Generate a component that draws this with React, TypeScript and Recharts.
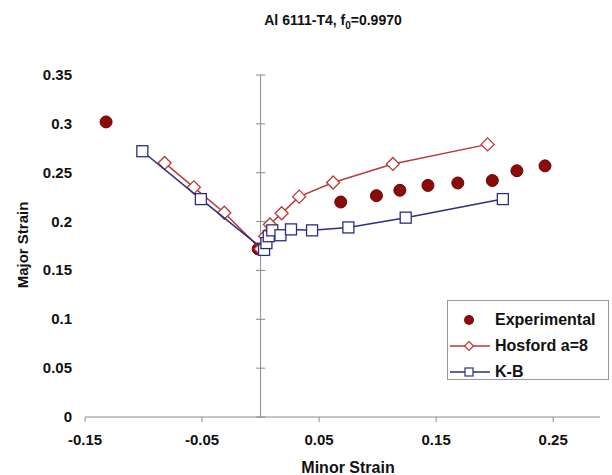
import React from 'react';
import { ScatterChart, Scatter, XAxis, YAxis, ReferenceLine } from 'recharts';

// Experimental forming limit points
const expMinor = [-0.132, -0.002, 0.0685, 0.099, 0.119, 0.143, 0.1685, 0.198, 0.219, 0.243];
const expMajor = [0.302, 0.172, 0.22, 0.2265, 0.232, 0.237, 0.2395, 0.242, 0.252, 0.257];

// Hosford yield criterion, a = 8
const hosMinor = [-0.082, -0.057, -0.031, 0, 0.004, 0.008, 0.018, 0.033, 0.062, 0.113, 0.194];
const hosMajor = [0.26, 0.235, 0.209, 0.172, 0.185, 0.197, 0.2085, 0.2255, 0.24, 0.259, 0.279];

// K-B model
const kbMinor = [-0.101, -0.051, 0.003, 0.005, 0.007, 0.01, 0.017, 0.026, 0.044, 0.075, 0.124, 0.207];
const kbMajor = [0.272, 0.223, 0.171, 0.178, 0.185, 0.191, 0.186, 0.192, 0.191, 0.194, 0.204, 0.223];

const xTicks = [-0.15, -0.05, 0.05, 0.15, 0.25];
const yTicks = [0, 0.05, 0.1, 0.15, 0.2, 0.25, 0.3, 0.35];
const yTickLabels = ['0', '0.05', '0.1', '0.15', '0.2', '0.25', '0.3', '0.35'];

const toPoints = (xs: number[], ys: number[]) => xs.map((x, i) => ({ x, y: ys[i] }));

const expData = toPoints(expMinor, expMajor);
const hosData = toPoints(hosMinor, hosMajor);
const kbData = toPoints(kbMinor, kbMajor);

const FONT = "Arial, 'Liberation Sans', sans-serif";
const AXIS = '#8c8c8c';
const EXP_COLOR = '#8b0a0a';
const HOS_COLOR = '#b83a36';
const KB_COLOR = '#2b2f80';

const Dot = ({ cx, cy }: any) => (
  <circle cx={cx} cy={cy} r={6} fill={EXP_COLOR} stroke="#6a0505" strokeWidth={1} />
);

const Diamond = ({ cx, cy }: any) => (
  <path
    d={`M${cx},${cy - 6.5} L${cx + 6.5},${cy} L${cx},${cy + 6.5} L${cx - 6.5},${cy} Z`}
    fill="#fff"
    stroke={HOS_COLOR}
    strokeWidth={1.3}
  />
);

const Square = ({ cx, cy }: any) => (
  <rect x={cx - 5.5} y={cy - 5.5} width={11} height={11} fill="#fff" stroke={KB_COLOR} strokeWidth={1.3} />
);

const XTick = ({ x, y, payload }: any) => (
  <text x={x} y={y + 21} textAnchor="middle" fontSize={15} fontWeight="bold" fill="#111" fontFamily={FONT}>
    {payload.value}
  </text>
);

const YTick = ({ x, y, payload }: any) => (
  <text x={x} y={y + 5} textAnchor="end" fontSize={15} fontWeight="bold" fill="#111" fontFamily={FONT}>
    {yTickLabels[yTicks.indexOf(payload.value)] ?? payload.value}
  </text>
);

const legendItems = [
  { name: 'Experimental', kind: 'dot' },
  { name: 'Hosford a=8', kind: 'diamond' },
  { name: 'K-B', kind: 'square' },
];

const LegendSymbol = ({ kind }: { kind: string }) => (
  <svg width={42} height={14} style={{ display: 'block' }}>
    {kind === 'dot' && <circle cx={20} cy={7} r={5} fill={EXP_COLOR} />}
    {kind === 'diamond' && (
      <>
        <line x1={1} y1={7} x2={41} y2={7} stroke={HOS_COLOR} strokeWidth={1.3} />
        <path d="M20,2.5 L24.5,7 L20,11.5 L15.5,7 Z" fill="#fff" stroke={HOS_COLOR} strokeWidth={1.2} />
      </>
    )}
    {kind === 'square' && (
      <>
        <line x1={1} y1={7} x2={41} y2={7} stroke={KB_COLOR} strokeWidth={1.3} />
        <rect x={16} y={3} width={8} height={8} fill="#fff" stroke={KB_COLOR} strokeWidth={1.2} />
      </>
    )}
  </svg>
);

export default function App() {
  return (
    <div style={{ position: 'absolute', left: 0, top: 0, width: 612, height: 475, background: '#fff', fontFamily: FONT }}>
      <div
        style={{
          position: 'absolute',
          left: 0,
          width: 666,
          top: 12,
          textAlign: 'center',
          fontSize: 14,
          fontWeight: 'bold',
          color: '#111',
        }}
      >
        Al 6111-T4, f<sub style={{ fontSize: 10 }}>0</sub>=0.9970
      </div>

      <ScatterChart width={612} height={475} margin={{ top: 75, right: 12, bottom: 0, left: 0 }}>
        <XAxis
          type="number"
          dataKey="x"
          domain={[-0.15, 0.29]}
          ticks={xTicks}
          allowDataOverflow
          axisLine={{ stroke: AXIS }}
          tickLine={{ stroke: AXIS }}
          tickSize={5}
          height={58}
          tick={<XTick />}
        />
        <YAxis
          type="number"
          dataKey="y"
          domain={[0, 0.35]}
          ticks={yTicks}
          width={85}
          axisLine={false}
          tickLine={false}
          tickSize={0}
          tickMargin={13}
          tick={<YTick />}
        />
        <ReferenceLine x={0} stroke={AXIS} strokeWidth={1} />
        {yTicks.map((t) => (
          <ReferenceLine
            key={t}
            segment={[
              { x: -0.004, y: t },
              { x: 0.004, y: t },
            ]}
            stroke={AXIS}
            strokeWidth={1}
          />
        ))}
        <Scatter name="Experimental" data={expData} shape={<Dot />} isAnimationActive={false} />
        <Scatter
          name="Hosford a=8"
          data={hosData}
          line={{ stroke: HOS_COLOR, strokeWidth: 1.5 }}
          lineJointType="linear"
          shape={<Diamond />}
          isAnimationActive={false}
        />
        <Scatter
          name="K-B"
          data={kbData}
          line={{ stroke: KB_COLOR, strokeWidth: 1.5 }}
          lineJointType="linear"
          shape={<Square />}
          isAnimationActive={false}
        />
      </ScatterChart>

      <div
        style={{
          position: 'absolute',
          left: 22,
          top: 245,
          transform: 'translate(-50%, -50%) rotate(-90deg)',
          fontSize: 15,
          fontWeight: 'bold',
          color: '#111',
          whiteSpace: 'nowrap',
        }}
      >
        Major Strain
      </div>
      <div
        style={{
          position: 'absolute',
          left: 348,
          top: 468,
          transform: 'translate(-50%, -50%)',
          fontSize: 16,
          fontWeight: 'bold',
          color: '#111',
          whiteSpace: 'nowrap',
        }}
      >
        Minor Strain
      </div>

      <div
        style={{
          position: 'absolute',
          left: 447,
          top: 300,
          width: 162,
          height: 80,
          boxSizing: 'border-box',
          border: '1px solid #999',
          background: '#fff',
          paddingTop: 6,
        }}
      >
        {legendItems.map((it) => (
          <div key={it.name} style={{ display: 'flex', alignItems: 'center', height: 27, marginTop: -1 }}>
            <div style={{ marginLeft: 1, width: 46 }}>
              <LegendSymbol kind={it.kind} />
            </div>
            <span style={{ fontSize: 16, fontWeight: 'bold', color: '#111', whiteSpace: 'pre' }}>{it.name}</span>
          </div>
        ))}
      </div>
    </div>
  );
}
